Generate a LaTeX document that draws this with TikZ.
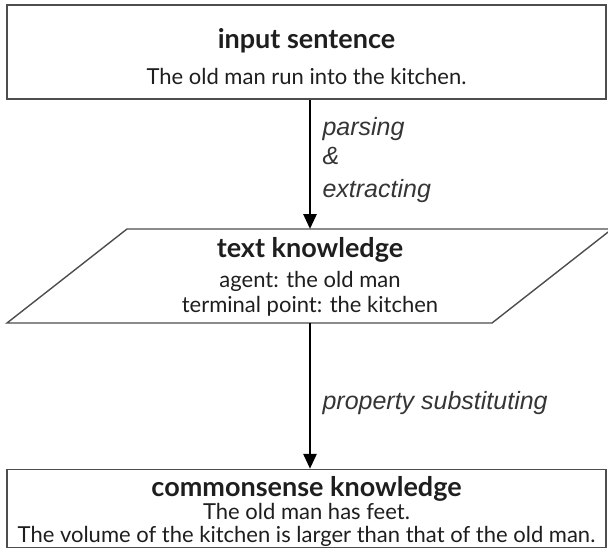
\documentclass[tikz,border=0pt]{standalone}
\usepackage{fontspec}
\setmainfont{Lato}
\newfontfamily\labfont{Liberation Sans}
\usetikzlibrary{arrows.meta}
\definecolor{frame}{RGB}{77,77,77}
\definecolor{ink}{RGB}{30,30,30}

\begin{document}
\begin{tikzpicture}[x=1pt, y=-1pt,
    box/.style={draw=frame, line width=1.4pt, inner sep=0pt},
    head/.style={font=\fontsize{27}{30}\selectfont\bfseries, color=ink, anchor=base},
    body/.style={font=\fontsize{22}{26}\selectfont, color=ink, anchor=base},
    lab/.style={font=\labfont\fontsize{25}{28}\selectfont\itshape, color=ink!90, anchor=base west},
    flow/.style={-{Triangle[length=15pt, width=13pt]}, line width=2.8pt, color=black}]
  \useasboundingbox (0,0) rectangle (608,549);

  % ---------- input sentence -----------------------------------------------
  \node[box, minimum width=599pt, minimum height=94pt] (input) at (306.5,52) {};
  \node[head] (inhead) at (306.5,48) {input sentence};
  \node[body] (intext) at (306.5,84) {The old man run into the kitchen.};

  % ---------- text knowledge -----------------------------------------------
  \draw[draw=frame, line width=1.4pt] (127,229) -- (612,229) -- (492,323) -- (7,323) -- cycle;
  \coordinate (tktop) at (310,229);
  \coordinate (tkbot) at (310,323);
  \node[head] (tkhead) at (310,257) {text knowledge};
  \node[body] (tkagent) at (310,287) {agent: the old man};
  \node[body] (tkpoint) at (310,312) {terminal point: the kitchen};

  % ---------- commonsense knowledge ----------------------------------------
  \node[box, minimum width=599pt, minimum height=78pt] (common) at (306.5,508.5) {};
  \node[head] (cshead) at (306.5,496) {commonsense knowledge};
  \node[body] (csfeet) at (306.5,519.5) {The old man has feet.};
  \node[body] (csvol) at (306.5,542) {The volume of the kitchen is larger than that of the old man.};

  % ---------- arrows -------------------------------------------------------
  \draw[flow] (input.south -| tktop) -- (tktop);
  \node[lab] (parse) at (319,135) {parsing};
  \node[lab] (amp) at (319,164) {\&};
  \node[lab] (extract) at (319,197) {extracting};
  \draw[flow] (tkbot) -- (common.north -| tkbot);
  \node[lab] (subst) at (319,409) {property substituting};
\end{tikzpicture}
\end{document}
